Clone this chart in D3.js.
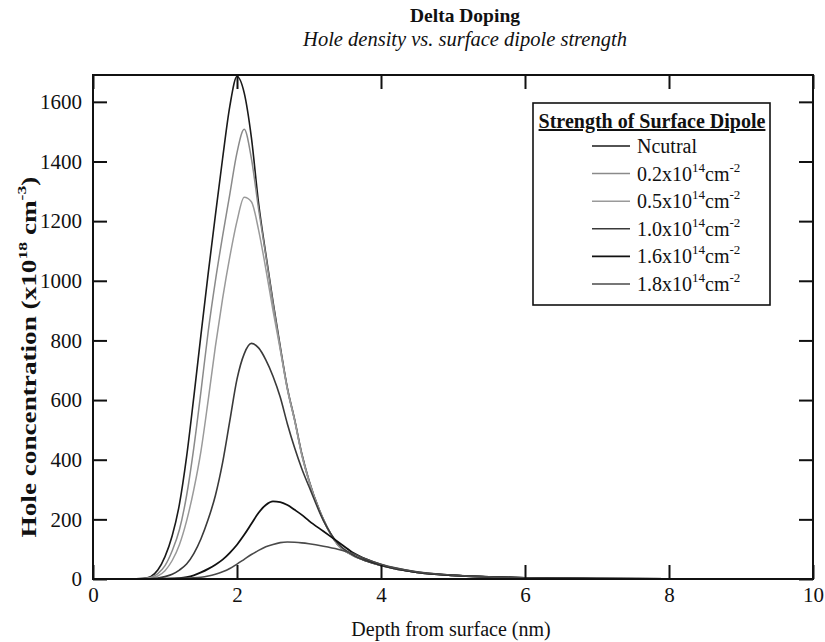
<!DOCTYPE html>
<html>
<head>
<meta charset="utf-8">
<script src="https://cdn.jsdelivr.net/npm/d3@7"></script>
<style>
    body { margin: 0; background: #fff; }
    text { font-family: "Liberation Serif", "Times New Roman", serif; fill: #111; }
</style>
</head>
<body>
<script>
// Depth (nm) sample points shared by every curve
var depth = [0, 0.5, 0.7, 0.8, 0.9, 1.0, 1.1, 1.2, 1.3, 1.4, 1.5, 1.6, 1.7,
             1.8, 1.9, 2.0, 2.1, 2.2, 2.3, 2.4, 2.5, 2.6, 2.7, 2.8, 2.9, 3.0,
             3.2, 3.4, 3.6, 3.8, 4.0, 4.5, 5.0, 5.5, 6, 7, 8, 10];

// Hole concentration (x10^18 cm^-3)
var neutral = [0, 0, 2, 8, 30, 75, 145, 250, 410, 610, 820, 1025, 1220, 1410,
               1585, 1685, 1630, 1480, 1260, 1090, 930, 780, 640, 535, 420,
               330, 200, 115, 80, 60, 45, 22, 12, 7, 4, 1.5, 0.5, 0];
var dip02 = [0, 0, 1, 5, 18, 45, 95, 165, 280, 440, 630, 830, 1000, 1150,
             1290, 1430, 1508, 1410, 1240, 1085, 925, 775, 638, 533, 418,
             329, 199, 115, 80, 60, 45, 22, 12, 7, 4, 1.5, 0.5, 0];
var dip05 = [0, 0, 1, 3, 10, 28, 62, 115, 195, 300, 430, 600, 780, 940, 1080,
             1200, 1280, 1265, 1170, 1040, 900, 770, 635, 532, 415, 328, 198,
             114, 80, 60, 45, 22, 12, 7, 4, 1.5, 0.5, 0];
var dip10 = [0, 0, 0, 1, 3, 8, 16, 30, 50, 85, 135, 200, 280, 390, 530, 670,
             755, 790, 775, 735, 680, 610, 520, 440, 370, 310, 196, 120, 82,
             60, 45, 22, 12, 7, 4, 1.5, 0.5, 0];
var dip16 = [0, 0, 0, 0, 0, 1, 2, 3, 6, 12, 22, 34, 48, 65, 88, 115, 148, 185,
             222, 248, 260, 258, 248, 232, 215, 195, 160, 125, 90, 66, 48, 23,
             12, 7, 4, 1.5, 0.5, 0];
var dip18 = [0, 0, 0, 0, 0, 0, 1, 2, 3, 4, 6, 10, 16, 24, 35, 50, 66, 82, 96,
             108, 116, 122, 124, 123, 121, 118, 110, 100, 86, 66, 49, 24, 13,
             7, 4, 1.5, 0.5, 0];

var seriesNames = ["Ncutral", "0.2", "0.5", "1.0", "1.6", "1.8"];
var seriesValues = [neutral, dip02, dip05, dip10, dip16, dip18];
var seriesColors = ["#1a1a1a", "#8a8a8a", "#9a9a9a", "#3a3a3a", "#111", "#4a4a4a"];
var seriesWidths = [1.6, 1.5, 1.5, 1.6, 1.8, 1.6];

var xTicks = [0, 2, 4, 6, 8, 10];
var yTicks = [0, 200, 400, 600, 800, 1000, 1200, 1400, 1600];

var W = 825, H = 642;
var plot = {left: 93, right: 813, top: 75, bottom: 579};

var svg = d3.select("body").append("svg")
    .attr("width", W)
    .attr("height", H);

var xScale = d3.scaleLinear().domain([0, 10]).range([plot.left, plot.right]);
var yScale = d3.scaleLinear().domain([0, 1690]).range([plot.bottom, plot.top]);

// Titles
svg.append("text")
    .attr("x", 465).attr("y", 22)
    .attr("text-anchor", "middle")
    .style("font-size", "19.5px").style("font-weight", "bold")
    .text("Delta Doping");
svg.append("text")
    .attr("x", 465).attr("y", 46)
    .attr("text-anchor", "middle")
    .style("font-size", "20.5px").style("font-style", "italic")
    .text("Hole density vs. surface dipole strength");

// Curves
var line = d3.line()
    .x(function(d) { return xScale(d[0]); })
    .y(function(d) { return yScale(d[1]); })
    .curve(d3.curveMonotoneX);

svg.append("clipPath").attr("id", "clip")
    .append("rect")
    .attr("x", plot.left).attr("y", plot.top - 2)
    .attr("width", plot.right - plot.left)
    .attr("height", plot.bottom - plot.top + 2);

var curves = svg.append("g").attr("clip-path", "url(#clip)");
seriesValues.forEach(function(vals, i) {
    var pts = depth.map(function(x, j) { return [x, vals[j]]; });
    curves.append("path")
        .datum(pts)
        .attr("d", line)
        .attr("fill", "none")
        .attr("stroke", seriesColors[i])
        .attr("stroke-width", seriesWidths[i])
        .attr("stroke-linejoin", "round");
});

// Axes with inward ticks on all four sides
var tickLen = 14;
var axB = svg.append("g")
    .attr("transform", "translate(0," + plot.bottom + ")")
    .call(d3.axisBottom(xScale).tickValues(xTicks).tickSize(-tickLen)
          .tickPadding(8).tickFormat(d3.format("d")));
var axT = svg.append("g")
    .attr("transform", "translate(0," + plot.top + ")")
    .call(d3.axisTop(xScale).tickValues(xTicks).tickSize(-tickLen)
          .tickFormat(""));
var axL = svg.append("g")
    .attr("transform", "translate(" + plot.left + ",0)")
    .call(d3.axisLeft(yScale).tickValues(yTicks).tickSize(-tickLen)
          .tickPadding(11).tickFormat(d3.format("d")));
var axR = svg.append("g")
    .attr("transform", "translate(" + plot.right + ",0)")
    .call(d3.axisRight(yScale).tickValues(yTicks).tickSize(-tickLen)
          .tickFormat(""));

[axB, axT, axL, axR].forEach(function(ax) {
    ax.select(".domain").remove();
    ax.selectAll("line").attr("stroke", "#111").attr("stroke-width", 2);
    ax.selectAll("text")
        .style("font-family", "'Liberation Serif', 'Times New Roman', serif")
        .style("font-size", "21px")
        .attr("fill", "#111");
});

svg.append("rect")
    .attr("x", plot.left).attr("y", plot.top)
    .attr("width", plot.right - plot.left)
    .attr("height", plot.bottom - plot.top)
    .attr("fill", "none")
    .attr("stroke", "#111")
    .attr("stroke-width", 2);

// Axis titles
svg.append("text")
    .attr("x", 451).attr("y", 636)
    .attr("text-anchor", "middle")
    .style("font-size", "20px")
    .text("Depth from surface (nm)");

// the y title is drawn longer than its font size suggests
var yTitle = svg.append("text")
    .attr("transform", "translate(36,357) rotate(-90) scale(1.36,1)")
    .attr("text-anchor", "middle")
    .style("font-size", "20px").style("font-weight", "bold");
yTitle.append("tspan").text("Hole concentration (x10");
yTitle.append("tspan").attr("dy", -9).style("font-size", "13px").text("18");
yTitle.append("tspan").attr("dy", 9).text(" cm");
yTitle.append("tspan").attr("dy", -10).style("font-size", "13px").text("-3");
yTitle.append("tspan").attr("dy", 10).text(")");

// Legend
var lg = svg.append("g");
lg.append("rect")
    .attr("x", 533).attr("y", 103)
    .attr("width", 237).attr("height", 202)
    .attr("fill", "#fff")
    .attr("stroke", "#111")
    .attr("stroke-width", 1.6);
lg.append("text")
    .attr("x", 652).attr("y", 128)
    .attr("text-anchor", "middle")
    .style("font-size", "20px").style("font-weight", "bold")
    .style("text-decoration", "underline")
    .text("Strength of Surface Dipole");

seriesNames.forEach(function(name, i) {
    var cy = 146 + i * 27.6;
    lg.append("line")
        .attr("x1", 592).attr("x2", 630)
        .attr("y1", cy).attr("y2", cy)
        .attr("stroke", seriesColors[i])
        .attr("stroke-width", seriesWidths[i]);
    var t = lg.append("text")
        .attr("x", 637).attr("y", cy + 7)
        .style("font-size", "20px");
    if (i === 0) {
        t.text(name);
    } else {
        t.append("tspan").text(name + "x10");
        t.append("tspan").attr("dy", -9).style("font-size", "13px").text("14");
        t.append("tspan").attr("dy", 9).text("cm");
        t.append("tspan").attr("dy", -9).style("font-size", "13px").text("-2");
    }
});
</script>
</body>
</html>
